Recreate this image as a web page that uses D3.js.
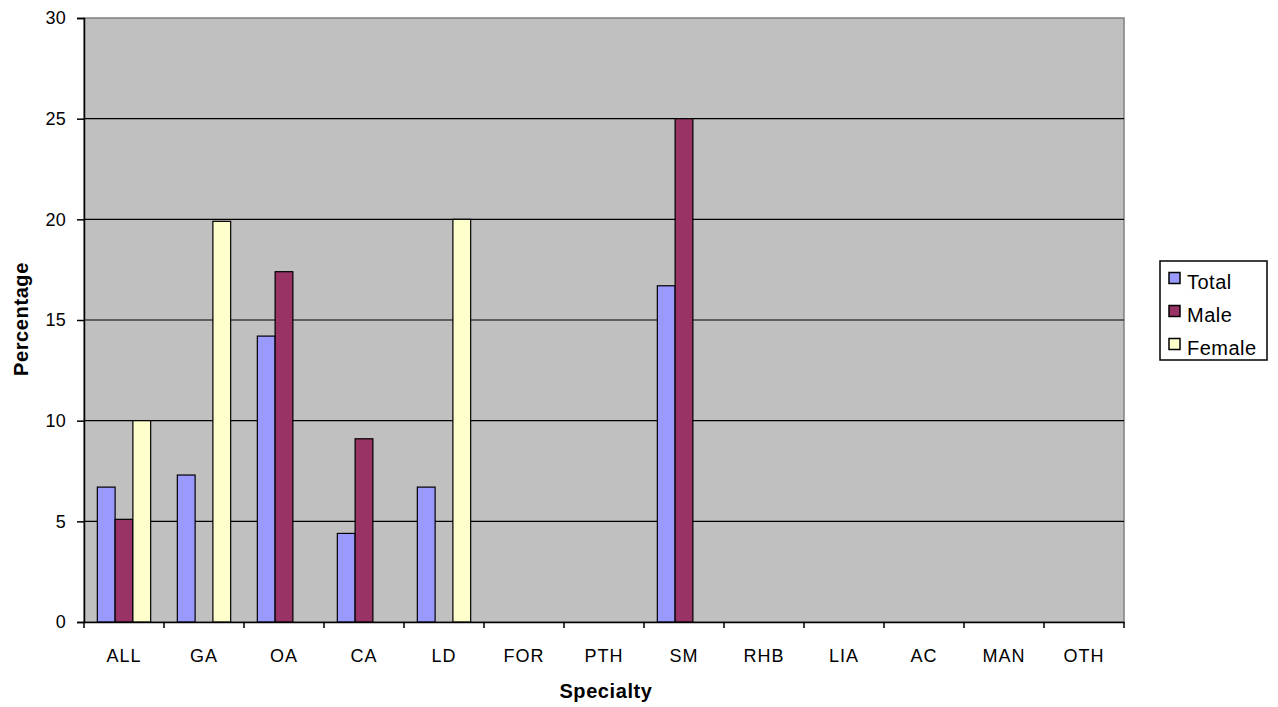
<!DOCTYPE html>
<html><head><meta charset="utf-8">
<script src="https://cdn.jsdelivr.net/npm/d3@7"></script>
<style>body{margin:0;background:#fff;}svg{display:block;font-family:"Liberation Sans",Arial,sans-serif;}</style>
</head><body>
<svg id="c" width="1278" height="707"></svg>
<script>
const categories = ["ALL","GA","OA","CA","LD","FOR","PTH","SM","RHB","LIA","AC","MAN","OTH"];
const seriesNames = ["Total","Male","Female"];
const totalValues  = [6.7, 7.3, 14.2, 4.4, 6.7, 0, 0, 16.7, 0, 0, 0, 0, 0];
const maleValues   = [5.1, 0, 17.4, 9.1, 0, 0, 0, 25, 0, 0, 0, 0, 0];
const femaleValues = [10, 19.9, 0, 0, 20, 0, 0, 0, 0, 0, 0, 0, 0];
const yTicks = [0,5,10,15,20,25,30];
const colors = ["#9999FF","#993366","#FFFFCC"];

const svg = d3.select("#c");
const m = {l:84, r:1124, t:18, b:622};
const x = d3.scaleBand().domain(categories).range([m.l, m.r]).paddingInner(0).paddingOuter(0);
const y = d3.scaleLinear().domain([0,30]).range([m.b, m.t]);
const gap = 1.5;
const bw = x.bandwidth()/(3+gap);
const xs = d3.scaleBand().domain(seriesNames).range([bw*gap/2, bw*gap/2 + bw*3]);

svg.append("rect").attr("x",m.l).attr("y",m.t).attr("width",m.r-m.l).attr("height",m.b-m.t)
  .attr("fill","#C0C0C0").attr("stroke","#808080").attr("stroke-width",1.5);

// gridlines
svg.append("g").selectAll("line").data(yTicks.filter(d=>d>0 && d<30)).join("line")
  .attr("x1",m.l).attr("x2",m.r).attr("y1",d=>y(d)).attr("y2",d=>y(d))
  .attr("stroke","#000").attr("stroke-width",1.2);

const data = [totalValues, maleValues, femaleValues];
seriesNames.forEach((s,i)=>{
  svg.append("g").selectAll("rect").data(categories.map((c,j)=>({c,v:data[i][j]})).filter(d=>d.v>0))
    .join("rect")
    .attr("x",d=>x(d.c)+xs(s)).attr("width",xs.bandwidth())
    .attr("y",d=>y(d.v)).attr("height",d=>y(0)-y(d.v))
    .attr("fill",colors[i]).attr("stroke","#000").attr("stroke-width",1.2);
});

const tickFont = "Liberation Sans, Arial, sans-serif";
// y axis
const ya = svg.append("g").attr("transform",`translate(${m.l},0)`)
  .call(d3.axisLeft(y).tickValues(yTicks).tickSize(7).tickPadding(11));
ya.selectAll("text").attr("font-size",18).attr("fill","#000").attr("font-family",tickFont).attr("letter-spacing",0.3);
ya.selectAll("line,path").attr("stroke","#000").attr("stroke-width",1.5);

// x axis
const xa = svg.append("g").attr("transform",`translate(0,${m.b})`)
  .call(d3.axisBottom(x).tickSize(0).tickPadding(27));
xa.selectAll("text").attr("font-size",18).attr("fill","#000").attr("font-family",tickFont).attr("letter-spacing",1);
xa.select("path").attr("stroke","#000").attr("stroke-width",1.5);
xa.selectAll(".tick line").remove();
svg.append("g").selectAll("line").data(categories.concat(["_end"])).join("line")
  .attr("x1",(d,i)=>m.l+i*x.step()).attr("x2",(d,i)=>m.l+i*x.step())
  .attr("y1",m.b).attr("y2",m.b+6).attr("stroke","#000").attr("stroke-width",1.5);

svg.append("text").attr("x",606).attr("y",698).attr("text-anchor","middle")
  .attr("font-size",20).attr("font-weight","bold").attr("letter-spacing",0.6).text("Specialty");
svg.append("text").attr("transform","translate(28,319) rotate(-90)").attr("text-anchor","middle")
  .attr("font-size",20).attr("font-weight","bold").attr("letter-spacing",0.6).text("Percentage");

// legend
const lg = svg.append("g");
lg.append("rect").attr("x",1160).attr("y",261).attr("width",107).attr("height",99)
  .attr("fill","#fff").attr("stroke","#000").attr("stroke-width",1.5);
seriesNames.forEach((s,i)=>{
  const yy = 272.5 + i*33;
  lg.append("rect").attr("x",1169).attr("y",yy).attr("width",11).attr("height",11)
    .attr("fill",colors[i]).attr("stroke","#000").attr("stroke-width",1.5);
  lg.append("text").attr("x",1187).attr("y",yy+16).attr("font-size",20).attr("letter-spacing",0.5).text(s);
});
</script>
</body></html>
